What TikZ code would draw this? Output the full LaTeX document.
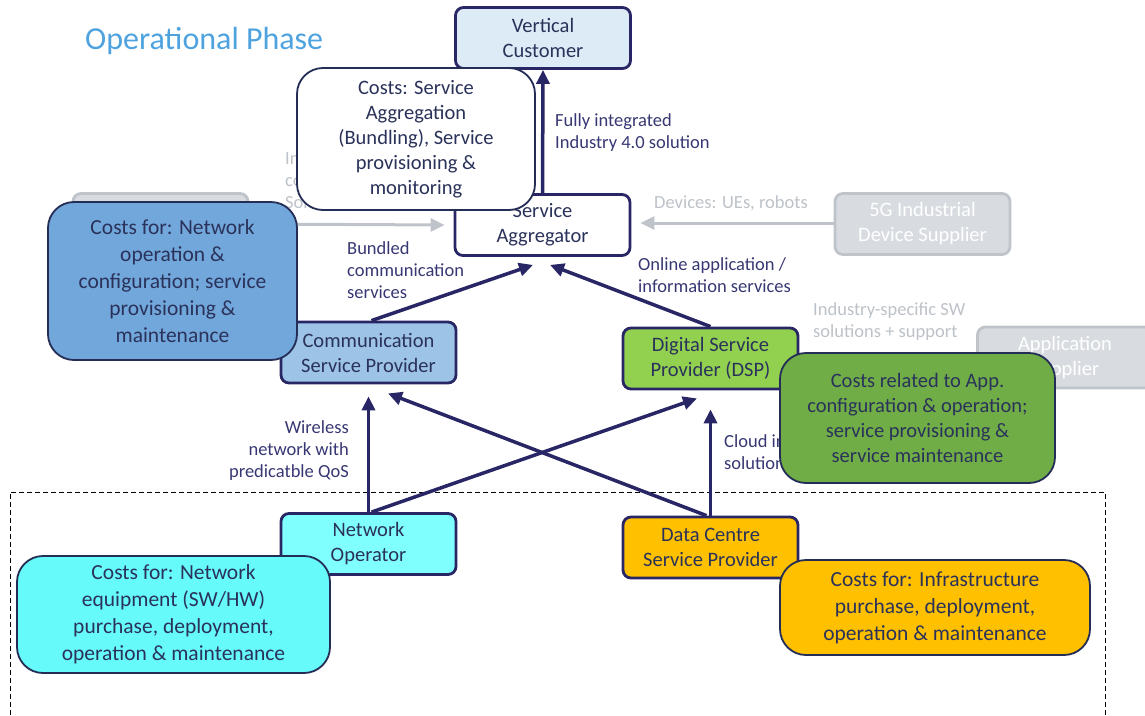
\documentclass[tikz,border=0pt]{standalone}
\usepackage{fontspec}
\setmainfont{Carlito}
\usetikzlibrary{arrows.meta,calc}

\definecolor{navy}{RGB}{40,38,100}
\definecolor{boxtext}{RGB}{42,50,90}
\definecolor{lbltext}{RGB}{55,55,115}
\definecolor{costedge}{RGB}{35,45,85}
\definecolor{ghostfill}{RGB}{216,220,224}
\definecolor{ghostedge}{RGB}{190,196,201}
\definecolor{ghosttext}{RGB}{188,194,200}
\definecolor{titleblue}{RGB}{78,163,223}
\definecolor{custfill}{RGB}{221,235,247}
\definecolor{cspfill}{RGB}{157,195,230}
\definecolor{cspcost}{RGB}{114,167,219}
\definecolor{dspfill}{RGB}{146,208,80}
\definecolor{dspcost}{RGB}{112,173,71}
\definecolor{nofill}{RGB}{128,255,255}
\definecolor{nocost}{RGB}{102,250,250}
\definecolor{dcfill}{RGB}{255,192,0}

\tikzset{
  box/.style={draw=navy, line width=2.8pt, rounded corners=8pt,
    minimum width=175pt, minimum height=61pt, align=center,
    text=boxtext, font=\fontsize{20.5}{25}\selectfont, inner sep=2pt},
  ghost/.style={box, draw=ghostedge, fill=ghostfill, text=white},
  costbox/.style={draw=costedge, line width=1.8pt, rounded corners=26pt,
    align=center, text=boxtext, inner sep=2pt},
  costsmall/.style={costbox, font=\fontsize{20.5}{25}\selectfont},
  costlarge/.style={costbox, font=\fontsize{21.5}{27}\selectfont},
  lbl/.style={text=lbltext, font=\fontsize{18.5}{22}\selectfont,
    align=left, inner sep=0pt},
  glbl/.style={lbl, text=ghosttext},
  arr/.style={draw=navy, line width=3.5pt,
    -{Triangle[length=14pt,width=13pt]}},
  garr/.style={draw=ghostedge, line width=3pt,
    -{Triangle[length=14pt,width=13pt]}},
}

\begin{document}
\begin{tikzpicture}[x=1pt,y=-1pt]
\useasboundingbox (0,0) rectangle (1145,715);

% deployment area
\draw[dash pattern=on 5pt off 3pt, line width=0.9pt]
  (10,715) -- (10,492) -- (1105,492) -- (1105,715);

% title
\node[anchor=west, text=titleblue, font=\fontsize{32}{38}\selectfont,
  inner sep=0pt] (title) at (85,41) {Operational Phase};

% greyed-out suppliers and their flows
\node[glbl, anchor=west] (glbl1) at (285,180) {Integrated\\communication\\Solutions};
\node[ghost] (gl) at (160.5,224) {};
\node[ghost] (devsup) at (922.5,224) {5G Industrial\\Device Supplier};
\node[ghost] (appsup) at (1065,357.5) {Application\\Supplier};
\node[glbl, anchor=west] (devlbl) at (654,203) {Devices: UEs, robots};
\node[glbl, anchor=west] (swlbl) at (813,322) {Industry-specific SW\\solutions + support};

% main actors
\node[box, fill=custfill] (vc) at (543,38) {Vertical\\Customer};
\node[box, fill=white] (sa) at (542.5,225) {Service\\Aggregator};
\node[box, fill=cspfill] (csp) at (368.5,352.5) {Communication\\Service Provider};
\node[box, fill=dspfill] (dsp) at (710.5,358.5) {Digital Service\\Provider (DSP)};
\node[box, fill=nofill] (no) at (368.5,544) {Network\\Operator};
\node[box, fill=dcfill] (dc) at (710.5,547.5) {Data Centre\\Service Provider};

% grey flows
\draw[garr] (gl.east) -- ($(sa.west)+(-9,0)$);
\draw[garr] ($(devsup.west)+(0,-1)$) -- ($(sa.east)+(9,-2)$);

% value flows
\draw[arr] (sa.north) -- (vc.south);
\draw[arr] ($(csp.north)+(3,0)$) -- ($(sa.south)+(-9.5,8)$);
\draw[arr] (dsp.north) -- ($(sa.south)+(7.5,8)$);
\draw[arr] (no.north) -- ($(csp.south)+(0,12)$);
\draw[arr] ($(no.north)+(3,0)$) -- ($(dsp.south)+(-13.5,8)$);
\draw[arr] (dc.north) -- ($(dsp.south)+(0,19)$);
\draw[arr] ($(dc.north)+(-4,0)$) -- ($(csp.south)+(19.5,9)$);

% flow labels
\node[lbl, anchor=west] (l1) at (555,133) {Fully integrated\\Industry 4.0 solution};
\node[lbl, anchor=west] (l2) at (347,270) {Bundled\\communication\\services};
\node[lbl, anchor=west] (l3) at (638,275) {Online application /\\information services};
\node[lbl, anchor=east, align=right] (l4) at (349,451) {Wireless\\network with\\predicatble QoS};
\node[lbl, anchor=west] (l5) at (724,452) {Cloud infrastructure\\solutions};

% cost annotations
\node[costsmall, fill=white, minimum width=238pt, minimum height=142pt]
  (sacost) at (416,139) {Costs: Service\\Aggregation\\(Bundling), Service\\provisioning \&\\monitoring};
\node[costlarge, fill=cspcost, minimum width=249pt, minimum height=158pt]
  (cspc) at (172.5,281) {Costs for: Network\\operation \&\\configuration; service\\provisioning \&\\maintenance};
\node[costsmall, fill=dspcost, minimum width=275pt, minimum height=130pt]
  (dspc) at (917.5,418) {Costs related to App.\\configuration \& operation;\\service provisioning \&\\service maintenance};
\node[costlarge, fill=nocost, minimum width=313pt, minimum height=117pt]
  (noc) at (173.5,614.5) {Costs for: Network\\equipment (SW/HW)\\purchase, deployment,\\operation \& maintenance};
\node[costlarge, fill=dcfill, minimum width=310pt, minimum height=95pt]
  (dcc) at (935,607.5) {Costs for: Infrastructure\\purchase, deployment,\\operation \& maintenance};
\end{tikzpicture}
\end{document}
